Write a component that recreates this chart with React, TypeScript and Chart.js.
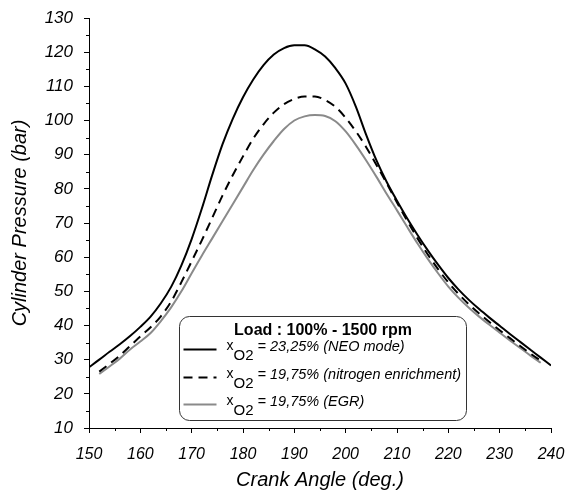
import React, { useEffect, useRef } from "react";
import { Chart, registerables } from "chart.js";

Chart.register(...registerables);

const FONT = '"Liberation Sans", Arial, sans-serif';

const angleNeo = [150,152,154,156,158,160,162,164,166,168,170,172,174,176,178,180,182,184,186,188,190,192,194,196,198,200,202,204,206,208,210,212,214,216,218,220,222,224,226,228,230,232,234,236,238,240];
const pressureNeo = [27.8,30.0,32.3,34.5,36.9,39.6,42.6,46.5,51.3,57.6,65.3,74.3,84.0,93.0,100.5,106.8,112.0,116.2,119.3,121.2,122.0,122.0,120.8,118.7,115.3,110.8,104.0,95.8,88.3,82.0,76.5,71.3,66.5,62.0,57.8,53.9,50.5,47.5,44.8,42.3,39.9,37.5,35.2,32.9,30.6,28.3];

const angleN2 = [152,154,156,158,160,162,164,166,168,170,172,174,176,178,180,182,184,186,188,190,192,194,196,198,200,202,204,206,208,210,212,214,216,218,220,222,224,226,228,230,232,234,236,238];
const pressureN2 = [26.5,28.8,31.2,34.0,36.8,39.5,42.7,47.0,52.7,58.8,65.0,71.5,78.0,84.0,89.5,94.7,98.9,102.3,104.8,106.3,107.0,107.0,106.0,104.0,100.8,96.8,92.2,87.0,81.6,76.0,70.6,65.5,60.8,56.5,52.6,49.2,46.2,43.5,41.0,38.6,36.3,34.0,31.8,29.7];

const angleEgr = [152,154,156,158,160,162,164,166,168,170,172,174,176,178,180,182,184,186,188,190,192,194,196,198,200,202,204,206,208,210,212,214,216,218,220,222,224,226,228,230,232,234,236,238];
const pressureEgr = [25.8,28.0,30.3,33.0,35.3,37.8,41.3,45.3,50.0,55.3,60.5,65.5,70.5,75.5,80.5,85.5,90.0,94.0,97.5,100.0,101.2,101.6,101.3,99.8,96.8,92.8,88.3,83.5,78.5,73.7,68.8,64.0,59.5,55.3,51.4,48.1,45.2,42.6,40.2,37.9,35.6,33.4,31.2,29.1];

const seriesLabels = [
  " = 23,25% (NEO mode)",
  " = 19,75% (nitrogen enrichment)",
  " = 19,75% (EGR)",
];
const legendTitle = "Load : 100% - 1500 rpm";
const xTitle = "Crank Angle (deg.)";
const yTitle = "Cylinder Pressure (bar)";

const GREY = "#8a8a8a";

const toPoints = (xs: number[], ys: number[]) => xs.map((x, i) => ({ x, y: ys[i] }));

const minorTicks = {
  id: "minorTicks",
  afterDraw(chart: any) {
    const { ctx } = chart;
    const xs = chart.scales.x;
    const ys = chart.scales.y;
    ctx.save();
    ctx.strokeStyle = "#000";
    ctx.lineWidth = 1;
    ctx.beginPath();
    for (let v = xs.min + 5; v < xs.max; v += 10) {
      const px = Math.round(xs.getPixelForValue(v)) + 0.5;
      ctx.moveTo(px, xs.top);
      ctx.lineTo(px, xs.top + 3);
    }
    for (let v = ys.min + 5; v < ys.max; v += 10) {
      const py = Math.round(ys.getPixelForValue(v)) + 0.5;
      ctx.moveTo(ys.right, py);
      ctx.lineTo(ys.right - 3, py);
    }
    ctx.stroke();
    ctx.restore();
  },
};

const boxLegend = {
  id: "boxLegend",
  afterDraw(chart: any) {
    const { ctx, chartArea } = chart;
    const x0 = Math.round(chartArea.left + 90) + 0.5;
    const y0 = Math.round(chartArea.bottom - 112) + 0.5;
    const w = 287;
    const h = 104;
    ctx.save();
    ctx.beginPath();
    ctx.roundRect(x0, y0, w, h, 10);
    ctx.fillStyle = "#fff";
    ctx.fill();
    ctx.strokeStyle = "#333";
    ctx.lineWidth = 1;
    ctx.stroke();

    ctx.fillStyle = "#000";
    ctx.font = `bold 16px ${FONT}`;
    ctx.textAlign = "center";
    ctx.textBaseline = "middle";
    ctx.fillText(legendTitle, x0 + w / 2, y0 + 14);

    const styles = [
      { color: "#000", dash: [] as number[] },
      { color: "#000", dash: [9, 6] },
      { color: GREY, dash: [] as number[] },
    ];
    const rowY = [33, 61, 88];
    ctx.textAlign = "left";
    ctx.textBaseline = "alphabetic";
    for (let i = 0; i < 3; i++) {
      const ly = y0 + rowY[i];
      ctx.beginPath();
      ctx.setLineDash(styles[i].dash);
      ctx.strokeStyle = styles[i].color;
      ctx.lineWidth = 2;
      ctx.moveTo(x0 + 4, ly);
      ctx.lineTo(x0 + 37, ly);
      ctx.stroke();
      ctx.setLineDash([]);

      let tx = x0 + 47;
      ctx.fillStyle = "#000";
      ctx.font = `14px ${FONT}`;
      ctx.fillText("x", tx, ly);
      tx += ctx.measureText("x").width;
      ctx.font = `15px ${FONT}`;
      ctx.fillText("O2", tx, ly + 10);
      tx += ctx.measureText("O2").width;
      ctx.font = `italic 14.5px ${FONT}`;
      ctx.fillText(seriesLabels[i], tx, ly + 1);
    }
    ctx.restore();
  },
};

export default function App() {
  const ref = useRef<HTMLCanvasElement | null>(null);

  useEffect(() => {
    if (!ref.current) return;
    const chart = new Chart(ref.current, {
      type: "line",
      data: {
        datasets: [
          {
            label: "NEO",
            data: toPoints(angleNeo, pressureNeo),
            borderColor: "#000",
            borderWidth: 2,
            pointRadius: 0,
            cubicInterpolationMode: "monotone",
            fill: false,
          },
          {
            label: "N2",
            data: toPoints(angleN2, pressureN2),
            borderColor: "#000",
            borderWidth: 2,
            borderDash: [9, 6],
            pointRadius: 0,
            cubicInterpolationMode: "monotone",
            fill: false,
          },
          {
            label: "EGR",
            data: toPoints(angleEgr, pressureEgr),
            borderColor: GREY,
            borderWidth: 2,
            pointRadius: 0,
            cubicInterpolationMode: "monotone",
            fill: false,
          },
        ],
      },
      options: {
        animation: false,
        responsive: false,
        devicePixelRatio: 1,
        layout: { padding: { top: 18, right: 17, left: 0, bottom: 0 } },
        plugins: { legend: { display: false }, tooltip: { enabled: false } },
        scales: {
          x: {
            type: "linear",
            min: 150,
            max: 240,
            ticks: {
              stepSize: 10,
              color: "#000",
              padding: 12,
              maxRotation: 0,
              font: { size: 16, style: "italic", family: FONT },
            },
            grid: { drawOnChartArea: false, tickLength: 5, color: "#000" },
            border: { color: "#000", width: 1 },
            title: {
              display: true,
              text: xTitle,
              color: "#000",
              font: { size: 20, style: "italic", family: FONT },
              padding: { top: 0, bottom: 0 },
            },
            afterFit(s: any) {
              s.height = 64;
              s.paddingLeft = 0;
              s.paddingRight = 0;
            },
          },
          y: {
            type: "linear",
            min: 10,
            max: 130,
            ticks: {
              stepSize: 10,
              color: "#000",
              padding: 11,
              font: { size: 17, style: "italic", family: FONT },
            },
            grid: { drawOnChartArea: false, tickLength: 5, color: "#000" },
            border: { color: "#000", width: 1 },
            title: {
              display: true,
              text: yTitle,
              color: "#000",
              font: { size: 20, style: "italic", family: FONT },
              padding: { top: 8, bottom: 0 },
            },
            afterFit(s: any) {
              s.width = 89;
              s.paddingTop = 0;
              s.paddingBottom = 0;
            },
          },
        },
      },
      plugins: [minorTicks, boxLegend],
    });
    return () => chart.destroy();
  }, []);

  return (
    <div style={{ position: "fixed", left: 0, top: 0, width: 568, height: 492, background: "#fff" }}>
      <canvas ref={ref} width={568} height={492} style={{ display: "block", width: 568, height: 492 }} />
    </div>
  );
}
